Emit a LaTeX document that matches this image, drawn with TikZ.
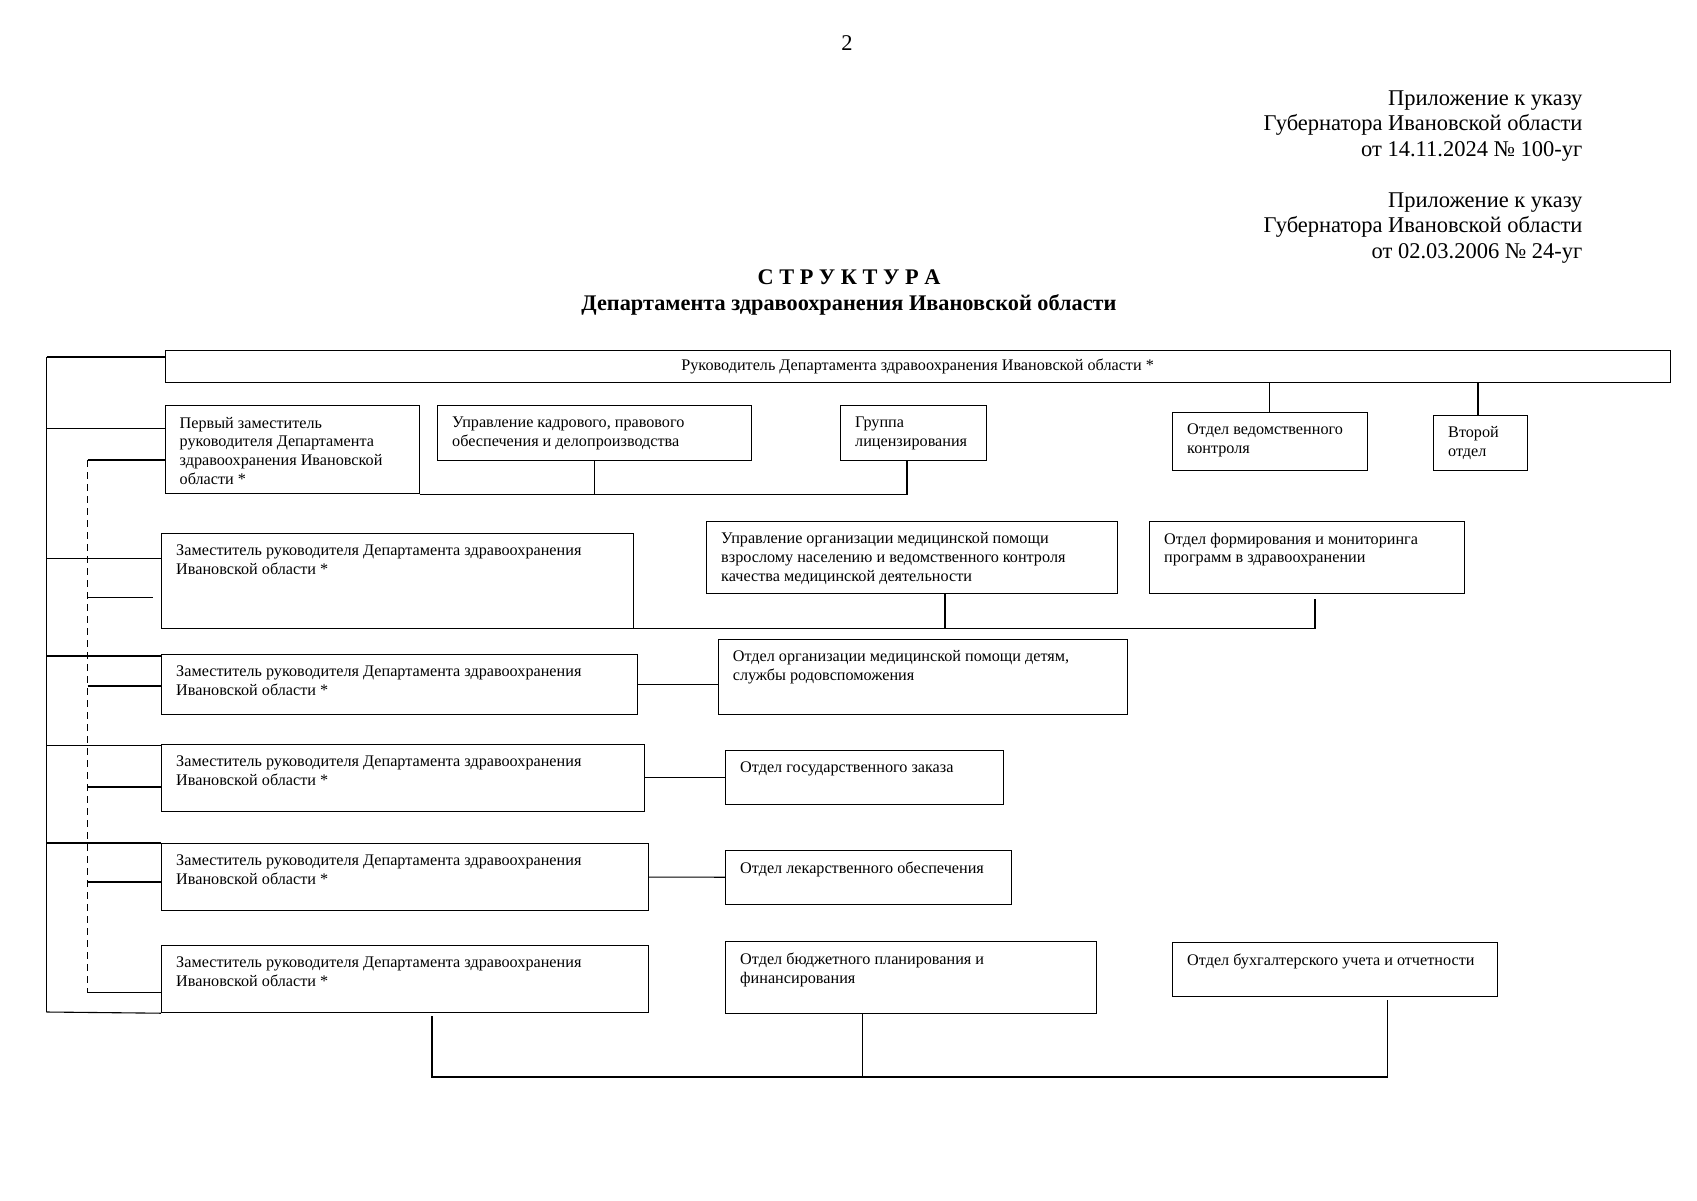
\documentclass[tikz,border=0pt]{standalone}
\usepackage{fontspec}
\setmainfont{Liberation Serif}
\usetikzlibrary{calc}

\newcommand{\boxfont}{\fontsize{16.2}{18.7}\selectfont}
\newcommand{\headfont}{\fontsize{22.5}{25.5}\selectfont}
\newcommand{\titlefont}{\fontsize{22.3}{26}\selectfont}

\tikzset{
  unit/.style={draw, line width=1.2pt, anchor=north west, inner sep=0pt},
  txt/.style={font=\boxfont, align=left, inner xsep=15pt, inner ysep=12pt, anchor=north west},
  link/.style={line width=1.1pt},
  sublink/.style={line width=1.1pt, dash pattern=on 7pt off 5pt},
}

\begin{document}
\begin{tikzpicture}[x=1pt, y=-1pt]
    \useasboundingbox (0,0) rectangle (1697,1200);

    % Page number and header
    \node[font=\headfont] (pagenum) at (847,43) {2};
    \node[font=\headfont, align=right, anchor=north east] (app1) at (1586,87)
        {Приложение к указу\\Губернатора Ивановской области\\от 14.11.2024 № 100-уг};
    \node[font=\headfont, align=right, anchor=north east] (app2) at (1586,189)
        {Приложение к указу\\Губернатора Ивановской области\\от 02.03.2006 № 24-уг};
    \node[font=\titlefont\bfseries, align=center] (title) at (849,292)
        {С Т Р У К Т У Р А\\Департамента здравоохранения Ивановской области};

    % === Head ===
    \node[unit, minimum width=1505pt, minimum height=32pt, font=\boxfont] (head) at (164.5,349.6)
        {Руководитель Департамента здравоохранения Ивановской области *};

    % === First row ===
    \node[unit, minimum width=254pt, minimum height=88pt,
          label={[txt]north west:{Первый заместитель\\руководителя Департамента\\здравоохранения Ивановской\\области *}}] (dep1) at (164.5,405) {};
    \node[unit, minimum width=314pt, minimum height=55pt,
          label={[txt]north west:{Управление кадрового, правового\\обеспечения и делопроизводства}}] (kadr) at (437,405) {};
    \node[unit, minimum width=146pt, minimum height=55pt,
          label={[txt]north west:{Группа\\лицензирования}}] (lic) at (840,405) {};
    \node[unit, minimum width=195pt, minimum height=58pt,
          label={[txt]north west:{Отдел ведомственного\\контроля}}] (vedk) at (1172,412) {};
    \node[unit, minimum width=94pt, minimum height=55pt,
          label={[txt]north west:{Второй\\отдел}}] (vtor) at (1433,414.5) {};

    % === Second row ===
    \node[unit, minimum width=472pt, minimum height=95pt,
          label={[txt]north west:{Заместитель руководителя Департамента здравоохранения\\Ивановской области *}}] (dep2) at (161,532.5) {};
    \node[unit, minimum width=411pt, minimum height=72pt,
          label={[txt]north west:{Управление организации медицинской помощи\\взрослому населению и ведомственного контроля\\качества медицинской деятельности}}] (umed) at (706,520.6) {};
    \node[unit, minimum width=315pt, minimum height=72pt,
          label={[txt]north west:{Отдел формирования и мониторинга\\программ в здравоохранении}}] (form) at (1149,520.6) {};

    % === Third row ===
    \node[unit, minimum width=476pt, minimum height=60pt,
          label={[txt]north west:{Заместитель руководителя Департамента здравоохранения\\Ивановской области *}}] (dep3) at (161,654) {};
    \node[unit, minimum width=409pt, minimum height=75pt,
          label={[txt]north west:{Отдел организации медицинской помощи детям,\\службы родовспоможения}}] (det) at (717.6,638.6) {};

    % === Fourth row ===
    \node[unit, minimum width=483pt, minimum height=67pt,
          label={[txt]north west:{Заместитель руководителя Департамента здравоохранения\\Ивановской области *}}] (dep4) at (161,743.5) {};
    \node[unit, minimum width=278pt, minimum height=54pt,
          label={[txt]north west:{Отдел государственного заказа}}] (gz) at (725,750) {};

    % === Fifth row ===
    \node[unit, minimum width=487pt, minimum height=67pt,
          label={[txt]north west:{Заместитель руководителя Департамента здравоохранения\\Ивановской области *}}] (dep5) at (161,843) {};
    \node[unit, minimum width=286pt, minimum height=54pt,
          label={[txt]north west:{Отдел лекарственного обеспечения}}] (lek) at (725,849.6) {};

    % === Sixth row ===
    \node[unit, minimum width=487pt, minimum height=67pt,
          label={[txt]north west:{Заместитель руководителя Департамента здравоохранения\\Ивановской области *}}] (dep6) at (161,945) {};
    \node[unit, minimum width=371pt, minimum height=72pt,
          label={[txt]north west:{Отдел бюджетного планирования и\\финансирования}}] (bud) at (725,940.5) {};
    \node[unit, minimum width=325pt, minimum height=54pt,
          label={[txt]north west:{Отдел бухгалтерского учета и отчетности}}] (buh) at (1172,941.6) {};

    % Bus coordinates
    \coordinate (lbusT) at (46.5,357);
    \coordinate (lbusB) at (46.5,1012);
    \coordinate (dbusT) at (87.7,460);
    \coordinate (dbusB) at (87.7,992.5);
    \coordinate (bbus) at (0,1077);

    % Left solid bus
    \draw[link] (lbusT) -- (lbusB);
    \draw[link] (lbusT) -- (lbusT -| head.west);
    \draw[link] (46.5,428.6) -- (dep1.west |- 0,428.6);
    \draw[link] (46.5,558.5) -- (dep2.west |- 0,558.5);
    \draw[link] (46.5,656) -- (dep3.west |- 0,656);
    \draw[link] (46.5,745.7) -- (dep4.west |- 0,745.7);
    \draw[link] (46.5,843) -- (dep5.north west);
    \draw[link] (lbusB) -- (dep6.south west);

    % Dashed bus
    \draw[sublink] (dbusT) -- (dbusB);
    \draw[link] (dbusT) -- (dbusT -| dep1.west);
    \draw[link, shorten >=8pt] (87.7,597.4) -- (dep2.west |- 0,597.4);
    \draw[link] (87.7,686) -- (dep3.west |- 0,686);
    \draw[link] (87.7,787) -- (dep4.west |- 0,787);
    \draw[link] (87.7,882) -- (dep5.west |- 0,882);
    \draw[link] (dbusB) -- (dbusB -| dep6.west);

    % Head to departments
    \draw[link] (vedk.north -| 1269.5,0) -- (head.south -| 1269.5,0);
    \draw[link] (vtor.north -| 1478,0) -- (head.south -| 1478,0);

    % First row bus
    \draw[link] (dep1.south east) -- (dep1.south -| 907,0) -- (lic.south -| 907,0);
    \draw[link] (kadr.south) -- (kadr.south |- dep1.south);

    % Second row bus
    \draw[link] (dep2.south east) -- (dep2.south -| 1315,0) -- ([yshift=-5pt]form.south -| 1315,0);
    \draw[link] (umed.south -| 945,0) -- (dep2.south -| 945,0);

    % Side links
    \draw[link] (dep3.east) -- (dep3.east -| det.west);
    \draw[link] (dep4.east) -- (gz.west);
    \draw[link] (dep5.east) -- (lek.west);

    % Bottom bus
    \draw[link] ([yshift=-3pt]dep6.south -| 432,0) -- (bbus -| 432,0) -- (bbus -| 1387.5,0) -- ([yshift=-3pt]buh.south -| 1387.5,0);
    \draw[link] (bud.south -| 862.6,0) -- (bbus -| 862.6,0);

\end{tikzpicture}
\end{document}
